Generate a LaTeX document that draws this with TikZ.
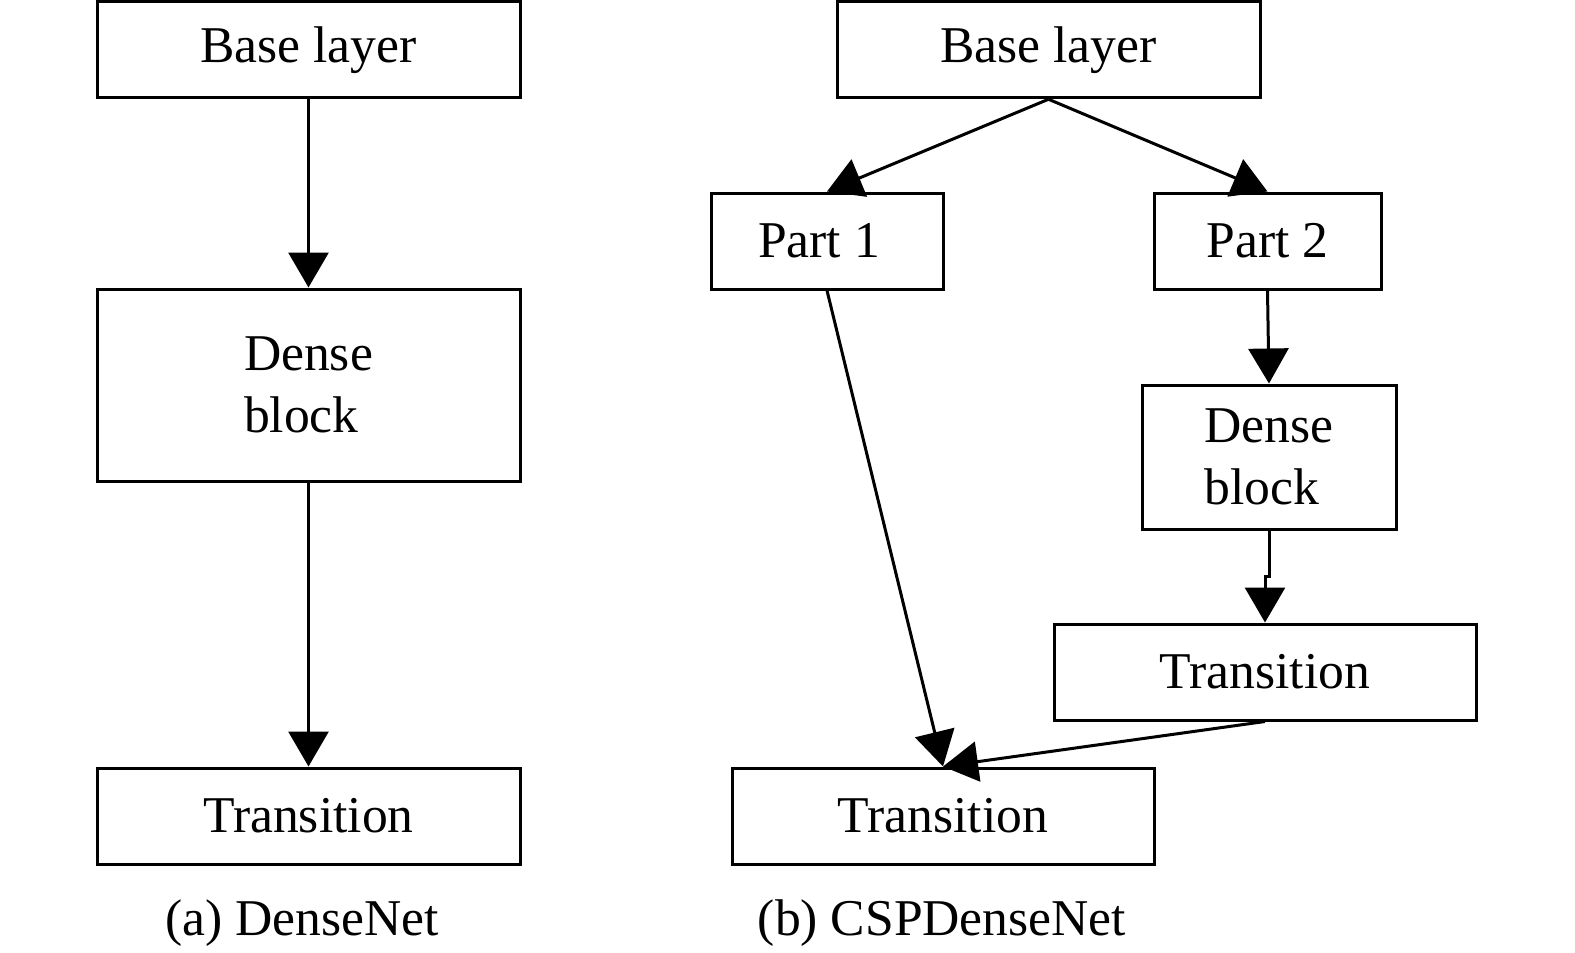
\documentclass[tikz,border=0pt]{standalone}
\usepackage{fontspec}
\setmainfont{Liberation Serif}
\usetikzlibrary{arrows.meta}
\begin{document}
\begin{tikzpicture}[x=0.5pt,y=-0.5pt,
  box/.style={draw,line width=1.5pt,inner sep=0pt,minimum height=48pt,font=\fontsize{25.8}{31}\selectfont},
  conn/.style={line width=1.5pt,-{Triangle[length=17.5pt,width=20pt]}},
  captxt/.style={font=\fontsize{25.8}{31}\selectfont,inner sep=0pt}]
\useasboundingbox (0,0) rectangle (1575,953);
% left column
\node[box,minimum width=211.5pt] (lbase) at (308.5,49.75) {Base layer};
\node[box,minimum width=211.5pt,minimum height=96pt,align=left] (ldense) at (308.5,385) {Dense\\block};
\node[box,minimum width=211.5pt] (ltrans) at (308.5,816) {Transition};
\node[captxt] (capa) at (302,923) {(a) DenseNet};
\draw[conn] (lbase.south) -- (ldense.north);
\draw[conn] (ldense.south) -- (ltrans.north);
% right column
\node[box,minimum width=211.5pt] (rbase) at (1048.5,49.75) {Base layer};
\node[box,minimum width=116pt] (p1) at (827,241) {Part 1\hspace*{8pt}};
\node[box,minimum width=113.5pt] (p2) at (1267.5,241) {Part 2};
\node[box,minimum width=127pt,minimum height=72pt,align=left] (rdense) at (1269,457) {Dense\\block};
\node[box,minimum width=211pt] (rtrans) at (1265,672) {Transition};
\node[box,minimum width=211pt] (btrans) at (943,816) {Transition};
\node[captxt] (capb) at (942,923) {(b) CSPDenseNet};
\draw[conn] (rbase.south) -- (p1.north);
\draw[conn] (rbase.south) -- (p2.north);
\draw[conn] (p2.south) -- (rdense.north);
\draw[conn] (rdense.south) -- ([yshift=-23pt]rdense.south) -| (rtrans.north);
\draw[conn] (p1.south) -- (btrans.north);
\draw[conn] (rtrans.south) -- (btrans.north);
\end{tikzpicture}
\end{document}
